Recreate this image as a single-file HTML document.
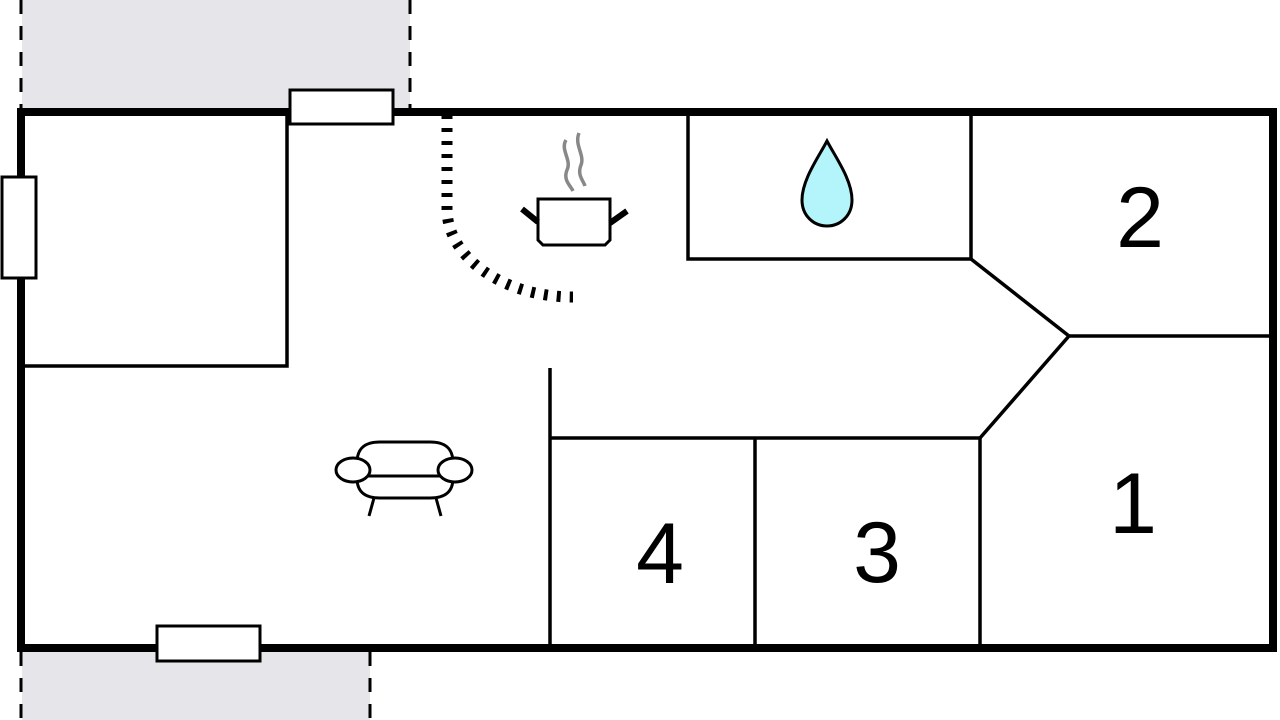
<!DOCTYPE html>
<html><head><meta charset="utf-8"><style>html,body{margin:0;padding:0;background:#fff}svg{display:block}</style></head>
<body>
<svg width="1280" height="720" viewBox="0 0 1280 720" xmlns="http://www.w3.org/2000/svg">
<rect x="22" y="0" width="388" height="108" fill="#e6e6ea"/>
<rect x="22" y="652" width="348" height="68" fill="#e6e6ea"/>
<g stroke="#000" stroke-width="3" stroke-dasharray="14,12">
<line x1="21" y1="0" x2="21" y2="108"/>
<line x1="410" y1="0" x2="410" y2="108"/>
<line x1="21" y1="652" x2="21" y2="720"/>
<line x1="370" y1="652" x2="370" y2="720"/>
</g>
<rect x="21" y="112" width="1252" height="536" fill="none" stroke="#000" stroke-width="8"/>
<g fill="#fff" stroke="#000" stroke-width="3">
<rect x="290" y="90" width="103" height="34"/>
<rect x="2" y="177" width="34" height="101"/>
<rect x="157" y="626" width="103" height="35"/>
</g>
<g stroke="#000" stroke-width="3.5" fill="none">
<polyline points="287,113 287,366 23,366"/>
<line x1="550" y1="368" x2="550" y2="646"/>
<line x1="550" y1="438" x2="980" y2="438"/>
<line x1="755" y1="438" x2="755" y2="646"/>
<line x1="980" y1="438" x2="980" y2="646"/>
<polyline points="980,438 1069,336 1271,336"/>
<polyline points="688,113 688,259 971,259 971,113"/>
<line x1="971" y1="259" x2="1069" y2="336"/>
</g>
<path d="M447,115 L447,208 A126,88 0 0 0 573,297" fill="none" stroke="#000" stroke-width="11" stroke-dasharray="4,9"/>
<g fill="none" stroke="#888" stroke-width="3.5">
<path d="M566,140 C560,150 572,160 567,170 C563,180 570,185 573,191"/>
<path d="M579,133 C574,145 585,155 581,165 C577,175 583,180 585,186"/>
</g>
<path d="M538,199 L610,199 L610,240 L605,245 L543,245 L538,240 Z" fill="#fff" stroke="#000" stroke-width="3"/>
<g stroke="#000" stroke-width="6"><line x1="522" y1="209" x2="538" y2="222"/><line x1="627" y1="211" x2="610" y2="223"/></g>
<path d="M827,141 C836,158 852,180 852,200 C852,216 840,226 827,226 C814,226 802,216 802,200 C802,180 818,158 827,141 Z" fill="#b3f5fa" stroke="#000" stroke-width="3"/>
<g fill="none" stroke="#000" stroke-width="3">
<path d="M357,463 C357,448 365,442 380,442 L430,442 C445,442 453,448 453,463"/>
<path d="M357,478 C357,492 365,498 380,498 L430,498 C445,498 453,492 453,478"/>
<line x1="368" y1="476" x2="442" y2="476"/>
<ellipse cx="353" cy="470" rx="17" ry="12" fill="#fff"/>
<ellipse cx="455" cy="470" rx="17" ry="12" fill="#fff"/>
<line x1="374" y1="498" x2="369" y2="516"/>
<line x1="436" y1="498" x2="441" y2="516"/>
</g>
<g font-family="Liberation Sans, sans-serif" font-size="86" text-anchor="middle" fill="#000">
<text x="1140" y="247">2</text>
<text x="1133" y="533">1</text>
<text x="877" y="582">3</text>
<text x="660" y="583">4</text>
</g>
</svg>
</body></html>
